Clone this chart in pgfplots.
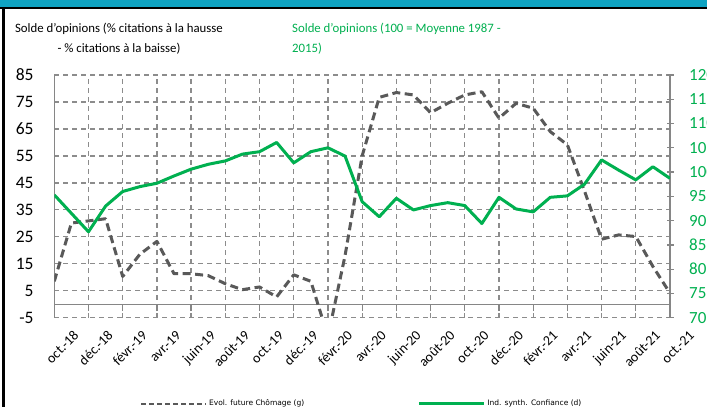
\documentclass[border=0pt]{standalone}
\usepackage{pgfplots}
\usepackage{pgfplotstable}
\pgfplotsset{compat=1.18}
\usepackage{fontspec}
\setmainfont{Carlito}
\newfontfamily\legfont{DejaVu Sans}
\definecolor{grn}{HTML}{00B050}
\definecolor{dgray}{HTML}{595959}
\definecolor{gridc}{HTML}{8C8C8C}
\definecolor{axc}{HTML}{868686}
\definecolor{tealc}{HTML}{0FA3C2}

\pgfplotstableread{
i chom conf
0 8.5 95.3
1 30.1 91.5
2 30.9 87.7
3 31.7 93.0
4 10.3 96.0
5 18.5 97.0
6 23.3 97.7
7 11.3 99.2
8 11.3 100.6
9 10.6 101.6
10 7.6 102.3
11 5.4 103.7
12 6.4 104.2
13 2.7 106.1
14 10.9 101.9
15 8.5 104.2
16 -12 105.0
17 18 103.3
18 55 93.9
19 76.7 90.8
20 78.5 94.6
21 77.6 92.2
22 71.0 93.1
23 74.5 93.7
24 77.6 93.1
25 78.8 89.4
26 69.0 94.8
27 74.5 92.4
28 72.7 91.8
29 64.0 94.8
30 59.1 95.1
31 42 97.5
32 24.1 102.5
33 25.7 100.4
34 25.1 98.4
35 14.0 101.1
36 4.1 98.7
}\datatable

\begin{document}
\begin{tikzpicture}[x=1pt,y=1pt]
\useasboundingbox (0,0) rectangle (707,407);
\clip (0,0) rectangle (707,407);
\fill[white] (0,0) rectangle (707,407);
\fill[tealc] (0,400) rectangle (707,407);
\draw[black, line width=2.5pt] (0,399) -- (707,399);
\draw[black, line width=3pt] (3.5,0) -- (3.5,399);

\node[align=center, font=\fontsize{12.8}{20}\selectfont] at (119,368) {Solde d'opinions (\% citations à la hausse\\- \% citations à la baisse)};
\node[align=left, anchor=west, text=grn, font=\fontsize{12.8}{20}\selectfont, inner sep=0pt] at (292,368) {Solde d'opinions (100 = Moyenne 1987 -\\2015)};

\begin{axis}[
  at={(54.3pt,89.3pt)}, anchor=south west,
  scale only axis, width=615.7pt, height=242.7pt,
  xmin=0, xmax=36, ymin=-5, ymax=85,
  axis x line=middle, axis y line=left,
  axis line style={-, draw=axc, line width=1.3pt},
  hide obscured x ticks=false,
  xtick={0,2,...,36},
  xticklabels={oct.-18, déc.-18, févr.-19, avr.-19, juin-19, août-19, oct.-19, déc.-19, févr.-20, avr.-20, juin-20, août-20, oct.-20, déc.-20, févr.-21, avr.-21, juin-21, août-21, oct.-21},
  x tick label style={rotate=45, anchor=north east, font=\fontsize{14}{16}\selectfont, inner sep=0pt, yshift=-26pt, xshift=0pt},
  xtick align=outside,
  x tick style={draw=axc, line width=1.3pt},
  major tick length=7pt,
  ytick={-5,5,...,85},
  y tick style={draw=none},
  y tick label style={anchor=east, inner sep=0pt, xshift=-17pt, font=\fontsize{17.5}{20}\selectfont},
  /pgf/number format/assume math mode=true,
  grid=major,
  major grid style={draw=gridc, line width=1.3pt, dash pattern=on 5pt off 4pt},
  clip=true,
]
\addplot[dgray, line width=3pt, dash pattern=on 8pt off 4.5pt, line join=round] table[x=i, y=chom] {\datatable};
\end{axis}

\begin{axis}[
  at={(54.3pt,89.3pt)}, anchor=south west,
  scale only axis, width=615.7pt, height=242.7pt,
  xmin=0, xmax=36, ymin=70, ymax=120,
  axis x line=none, axis y line*=right,
  axis line style={-, draw=axc, line width=1.3pt},
  xtick=\empty,
  ytick={70,75,...,120},
  ytick align=center,
  major tick length=7pt,
  y tick style={draw=axc, line width=1.3pt},
  y tick label style={anchor=west, inner sep=0pt, xshift=15.5pt, text=grn, font=\fontsize{17}{20}\selectfont},
  /pgf/number format/assume math mode=true,
  legend style={at={(0.139,-0.354)}, anchor=west, draw=none, fill=none, inner sep=0pt,
    font=\legfont\fontsize{7.5}{9}\selectfont,
    /tikz/every even column/.append style={column sep=111pt}},
  legend columns=2,
  legend image code/.code={\draw[#1] (0pt,0pt) -- (65pt,0pt);},
]
\addlegendimage{dgray, line width=2pt, dash pattern=on 5pt off 3pt}
\addlegendentry{Evol. future Chômage (g)}
\addplot[grn, line width=3pt, line join=round] table[x=i, y=conf] {\datatable};
\addlegendentry{Ind. synth. Confiance (d)}
\end{axis}
\end{tikzpicture}
\end{document}
